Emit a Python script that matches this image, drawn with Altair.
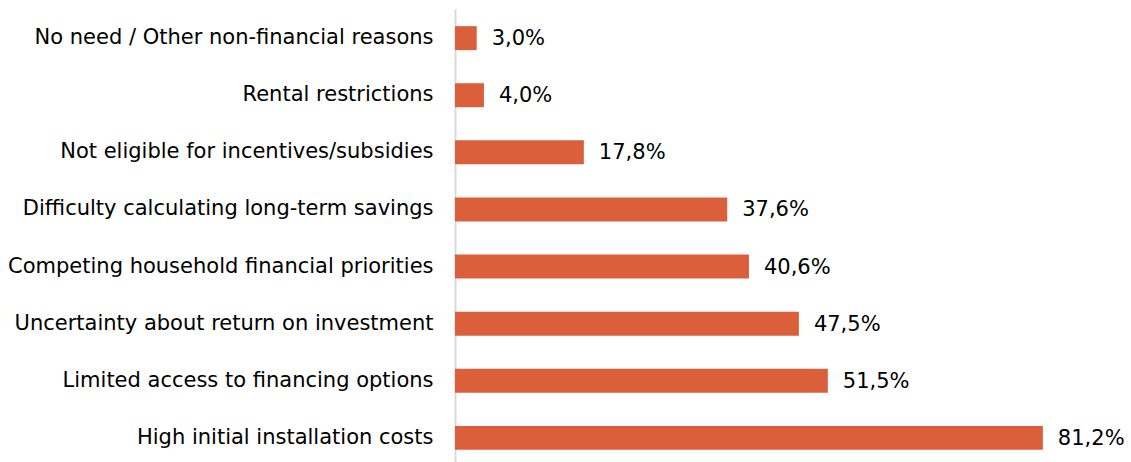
import altair as alt
import pandas as pd

categories = [
    "No need / Other non-financial reasons",
    "Rental restrictions",
    "Not eligible for incentives/subsidies",
    "Difficulty calculating long-term savings",
    "Competing household financial priorities",
    "Uncertainty about return on investment",
    "Limited access to financing options",
    "High initial installation costs",
]
values = [3.0, 4.0, 17.8, 37.6, 40.6, 47.5, 51.5, 81.2]

df = pd.DataFrame({"reason": categories, "value": values})

FONT = "DejaVu Sans"
FS = 21
COLOR = "#DC5F3B"

y_enc = alt.Y(
    "reason:N",
    sort=categories,
    title=None,
    scale=alt.Scale(paddingInner=0.58, paddingOuter=0.3),
    axis=alt.Axis(
        domain=True,
        domainColor="#d9d9d9",
        domainWidth=2,
        ticks=False,
        grid=False,
        labelPadding=22,
        labelLimit=600,
        labelFontSize=FS,
        labelFont=FONT,
        labelColor="#000000",
    ),
)
x_enc = alt.X(
    "value:Q",
    title=None,
    scale=alt.Scale(domain=[0, 88.4], nice=False),
    axis=None,
)

bars = alt.Chart(df).mark_bar(color=COLOR).encode(y=y_enc, x=x_enc)

text = (
    alt.Chart(df)
    .transform_calculate(label="replace(format(datum.value, '.1f'), '.', ',') + '%'")
    .mark_text(align="left", baseline="middle", dx=15, dy=1, fontSize=FS, font=FONT, color="#000000")
    .encode(y=y_enc, x=x_enc, text="label:N")
)

chart = (
    alt.layer(bars, text)
    .properties(
        width=640,
        height=458,
        background="#ffffff",
        autosize=alt.AutoSizeParams(type="none"),
        padding={"left": 455, "top": 9, "right": 36, "bottom": 0},
    )
    .configure_view(stroke="transparent", strokeWidth=0)
)

chart.save("out.html", embed_options={"renderer": "svg", "actions": False})
